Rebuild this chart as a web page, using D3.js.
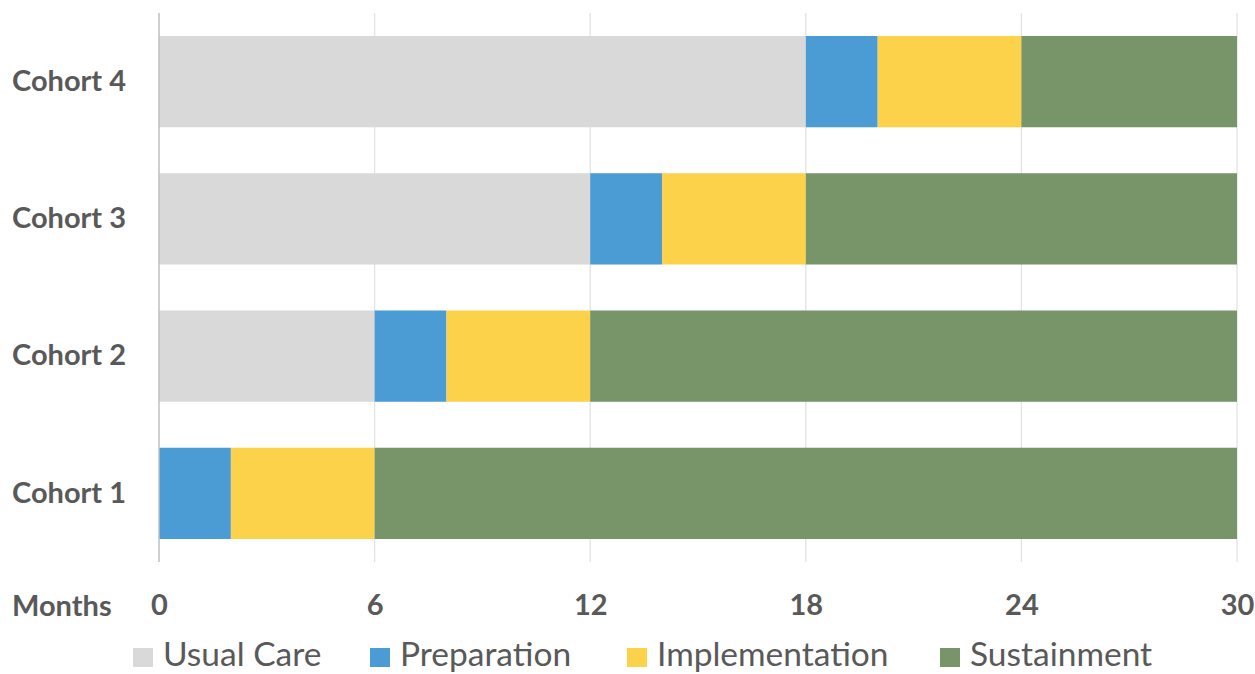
<!DOCTYPE html>
<html><head><meta charset="utf-8">
<script src="https://cdn.jsdelivr.net/npm/d3@7"></script>
<style>body{margin:0;background:#fff}svg{display:block}</style>
</head><body>
<svg id="c" width="1255" height="674"></svg>
<script>
const cohorts = ["Cohort 4","Cohort 3","Cohort 2","Cohort 1"];
const phases = ["Usual Care","Preparation","Implementation","Sustainment"];
const usualCare = [18,12,6,0];
const preparation = [2,2,2,2];
const implementation = [4,4,4,4];
const sustainment = [6,12,18,24];
const tickValues = [0,6,12,18,24,30];
const axisTitle = "Months";
const colors = ["#d9d9d9","#4b9bd5","#fdd24b","#78956a"];

const rows = cohorts.map((c,i)=>({cohort:c,"Usual Care":usualCare[i],"Preparation":preparation[i],"Implementation":implementation[i],"Sustainment":sustainment[i]}));
const stack = d3.stack().keys(phases)(rows);

const svg = d3.select("#c");
const font = "Lato, 'Open Sans', sans-serif";
const x = d3.scaleLinear().domain([0,30]).range([159,1237]);
const y = d3.scaleBand().domain(cohorts).range([13,562]).paddingInner(0.335).paddingOuter(0.1675);
const color = d3.scaleOrdinal().domain(phases).range(colors);

// gridlines
svg.append("g").selectAll("line").data(tickValues.slice(1)).join("line")
  .attr("x1",d=>x(d)).attr("x2",d=>x(d)).attr("y1",13).attr("y2",562)
  .attr("stroke","#e3e3e3").attr("stroke-width",1.3);

// bars
svg.append("g").selectAll("g").data(stack).join("g").attr("fill",d=>color(d.key))
  .selectAll("rect").data(d=>d).join("rect")
  .attr("x",d=>x(d[0])).attr("width",d=>x(d[1])-x(d[0]))
  .attr("y",d=>y(d.data.cohort)).attr("height",y.bandwidth());

// axis line at 0
svg.append("line").attr("x1",x(0)).attr("x2",x(0)).attr("y1",13).attr("y2",562)
  .attr("stroke","#bfbfbf").attr("stroke-width",1.5);

// x tick labels
const xAxis = d3.axisBottom(x).tickValues(tickValues).tickSize(0).tickPadding(0);
const gx = svg.append("g").attr("transform","translate(0,594)").call(xAxis);
gx.select(".domain").remove();
gx.selectAll("text").attr("font-family",font).attr("font-weight","bold").attr("font-size",29)
  .attr("fill","#595959").attr("dy","0.71em");

svg.append("text").attr("x",12).attr("y",616).text(axisTitle)
  .attr("font-family",font).attr("font-weight","bold").attr("font-size",29).attr("fill","#595959");

// y labels
const yAxis = d3.axisLeft(y).tickSize(0).tickPadding(0);
const gy = svg.append("g").attr("transform","translate(12,0)").call(yAxis);
gy.select(".domain").remove();
gy.selectAll("text").attr("text-anchor","start").attr("font-family",font).attr("font-weight","bold")
  .attr("font-size",29).attr("fill","#595959");

// legend
const legendX = [133,370,627,940];
const lg = svg.append("g").selectAll("g").data(phases).join("g")
  .attr("transform",(d,i)=>`translate(${legendX[i]},0)`);
lg.append("rect").attr("x",0).attr("y",648).attr("width",20).attr("height",19).attr("fill",d=>color(d));
lg.append("text").attr("x",30).attr("y",666).text(d=>d)
  .attr("font-family",font).attr("font-size",33.5).attr("fill","#595959");
</script>
</body></html>
